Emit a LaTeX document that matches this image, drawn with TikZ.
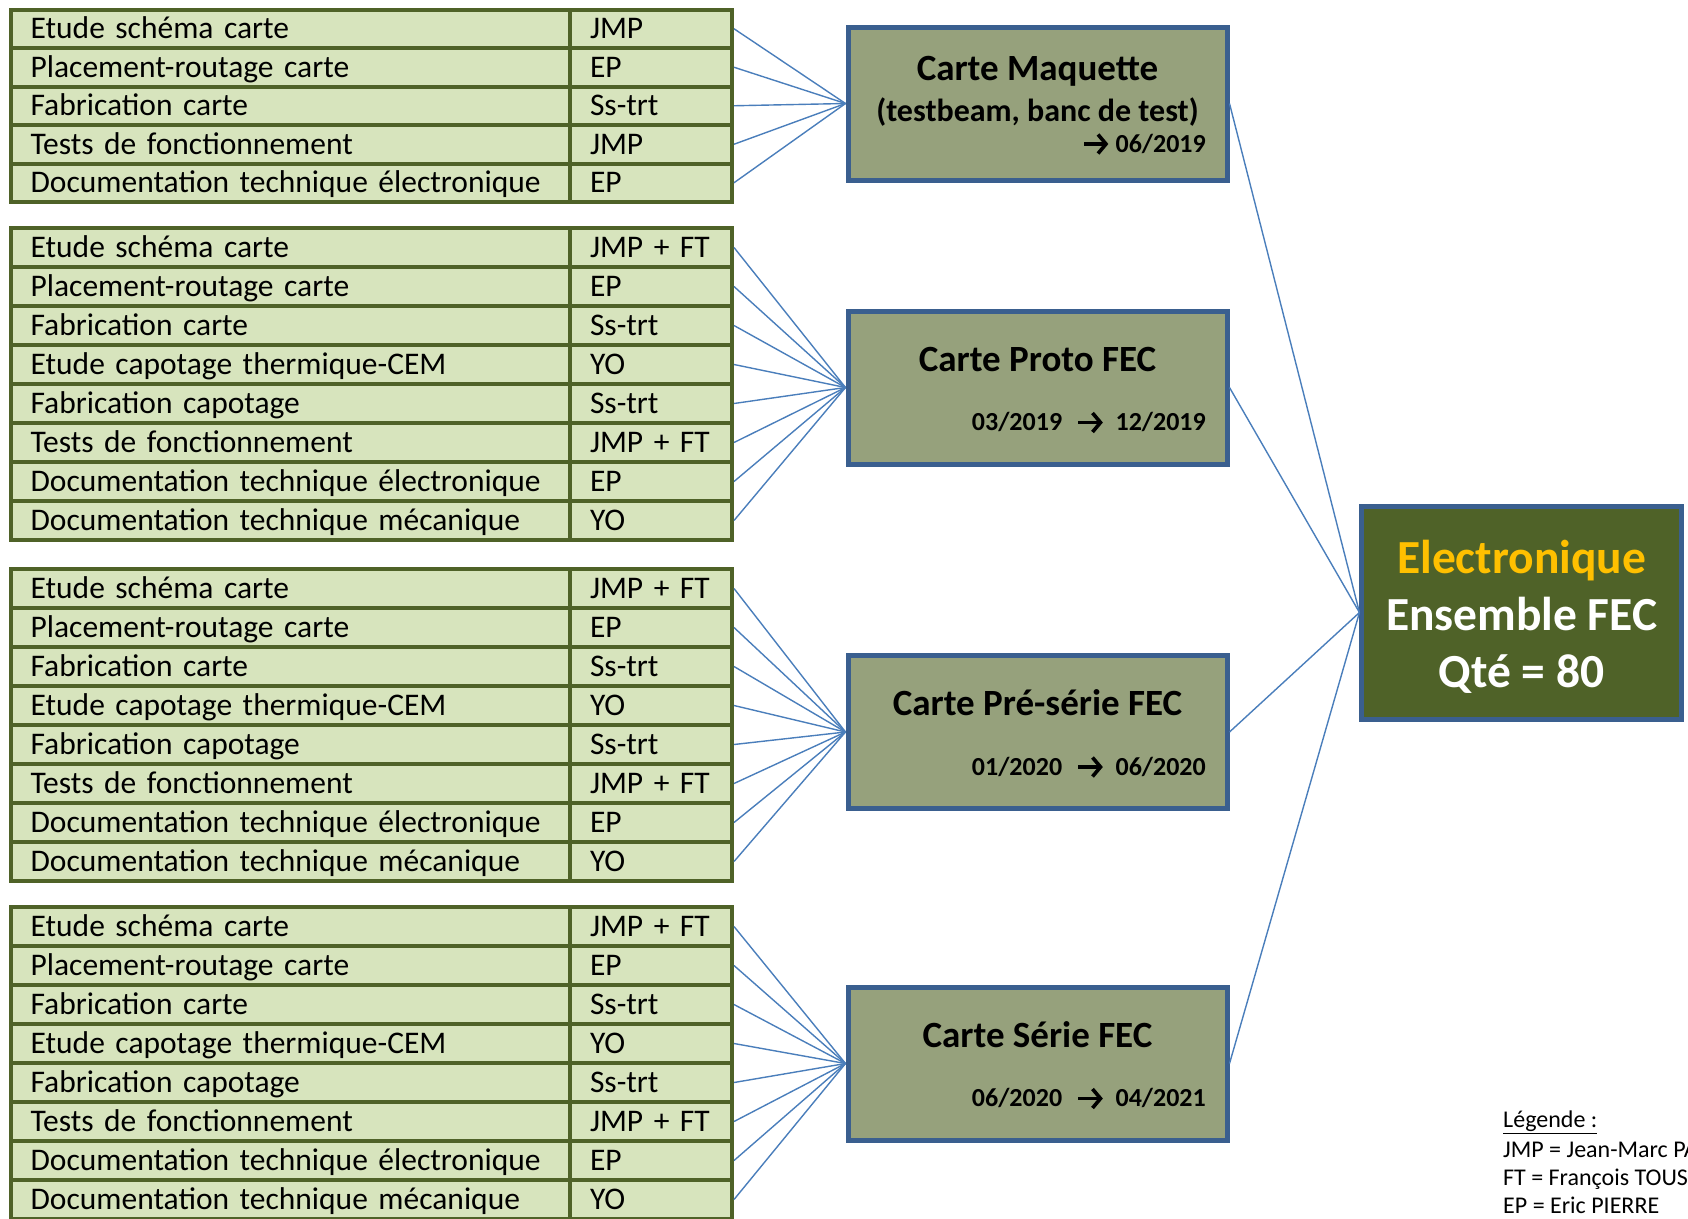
\documentclass[tikz,border=0pt]{standalone}
\usepackage{fontspec}
\setmainfont{Carlito}
\usetikzlibrary{arrows.meta,positioning}

\definecolor{rowfill}{HTML}{D7E4BD}
\definecolor{rowline}{HTML}{4F6228}
\definecolor{cardfill}{HTML}{96A17C}
\definecolor{cardline}{HTML}{3A5F8F}
\definecolor{elecfill}{HTML}{4F6228}
\definecolor{connline}{HTML}{4A7EBB}
\definecolor{gold}{HTML}{FFC000}

\begin{document}
\begin{tikzpicture}[x=1pt,y=-1pt,
  cell/.style={draw=rowline,fill=rowfill,line width=4pt,anchor=north west,
    inner xsep=20pt,inner ysep=0pt,minimum height=39pt,align=left,
    text height=20pt,text depth=0pt,
    font=\fontsize{31.5}{38}\selectfont},
  task/.style={cell,minimum width=559.4pt,text width=519.4pt},
  who/.style={cell,minimum width=162pt,text width=122pt},
  conn/.style={draw=connline,line width=1.4pt},
  card/.style={draw=cardline,fill=cardfill,line width=5pt,
    minimum width=379pt,minimum height=153pt},
  ctitle/.style={inner sep=0pt,text height=23.8pt,text depth=0pt,
    font=\bfseries\fontsize{37}{44}\selectfont},
  csub/.style={inner sep=0pt,text height=20.6pt,text depth=0pt,
    font=\bfseries\fontsize{32}{38}\selectfont},
  cdate/.style={inner sep=0pt,text height=16.7pt,text depth=0pt,
    font=\bfseries\fontsize{26}{31}\selectfont},
  darr/.style={line width=3.6pt,-{Straight Barb[length=8pt,width=19pt]}},
  legend/.style={inner sep=0pt,anchor=west,text height=15.5pt,text depth=0pt,
    font=\fontsize{24}{29}\selectfont}]
  \useasboundingbox (0,0) rectangle (1688,1218);
  \clip (0,0) rectangle (1688,1218);

  % cards
  \node[card] (maq) at (1037.5,103.5) {};
  \node[card] (proto) at (1037.5,387.5) {};
  \node[card] (preserie) at (1037.5,732) {};
  \node[card] (serie) at (1037.5,1063.5) {};

  \node[ctitle] (maqT) at ([yshift=34.5pt]maq.center) {Carte Maquette};
  \node[csub] (maqS) at ([yshift=-7.5pt]maq.center) {(testbeam, banc de test)};
  \node[cdate,anchor=east] (maqD) at ([xshift=168.5pt,yshift=-40.5pt]maq.center) {06/2019};
  \coordinate[left=31pt of maqD.west] (maqA);
  \draw[darr] (maqA) -- ([xshift=-7pt]maqD.west);

  \foreach \card/\from/\to in {proto/{03/2019}/{12/2019},
      preserie/{01/2020}/{06/2020}, serie/{06/2020}/{04/2021}}{
    \node[cdate,anchor=east] (\card D2) at ([xshift=168.5pt,yshift=-35pt]\card.center) {\to};
    \node[cdate,left=53pt of \card D2] (\card D1) {\from};
    \draw[darr] ([xshift=16pt]\card D1.east) -- ([xshift=-12.5pt]\card D2.west);
  }
  \node[ctitle] (protoT) at ([yshift=28pt]proto.center) {Carte Proto FEC};
  \node[ctitle] (preserieT) at ([yshift=28pt]preserie.center) {Carte Pré-série FEC};
  \node[ctitle] (serieT) at ([yshift=28pt]serie.center) {Carte Série FEC};

  % main box
  \node[draw=cardline,fill=elecfill,line width=5pt,minimum width=319.5pt,
    minimum height=213pt] (elec) at (1521.7,612.5) {};
  \node[text=white,align=center,font=\bfseries\fontsize{47.5}{57}\selectfont]
    (elecT) at ([yshift=-4pt]elec.center)
    {\textcolor{gold}{Electronique}\\Ensemble FEC\\Qté = 80};

  \foreach \card in {maq,proto,preserie,serie}
    \draw[conn] (\card.east) -- (elec.west);

  % first table
  \foreach \task/\who [count=\i] in {Etude schéma carte/JMP,
      Placement-routage carte/EP, Fabrication carte/Ss-trt,
      Tests de fonctionnement/JMP, Documentation technique électronique/EP}{
    \node[task,minimum height=38.5pt] (maq t\i) at (8.6,{7.5+38.5*(\i-1)}) {\task};
    \node[who,minimum height=38.5pt] (maq w\i) at (568,{7.5+38.5*(\i-1)}) {\who};
    \draw[conn] (maq w\i.east) -- (maq.west);
  }

  % other tables
  \foreach \top/\card in {226/proto,567/preserie,905/serie}{
    \foreach \task/\who [count=\i] in {Etude schéma carte/JMP + FT,
        Placement-routage carte/EP, Fabrication carte/Ss-trt,
        Etude capotage thermique-CEM/YO, Fabrication capotage/Ss-trt,
        Tests de fonctionnement/JMP + FT,
        Documentation technique électronique/EP,
        Documentation technique mécanique/YO}{
      \node[task] (\card t\i) at (8.6,{\top+39*(\i-1)}) {\task};
      \node[who] (\card w\i) at (568,{\top+39*(\i-1)}) {\who};
      \draw[conn] (\card w\i.east) -- (\card.west);
    }
  }

  % legend
  \node[legend] (leg1) at (1503,1119.6) {\underline{Légende :}};
  \node[legend] (leg2) at (1503,1149.7) {JMP = Jean-Marc PA};
  \node[legend] (leg3) at (1503,1177.7) {FT = François TOUS};
  \node[legend] (leg4) at (1503,1205.7) {EP = Eric PIERRE};
\end{tikzpicture}
\end{document}
